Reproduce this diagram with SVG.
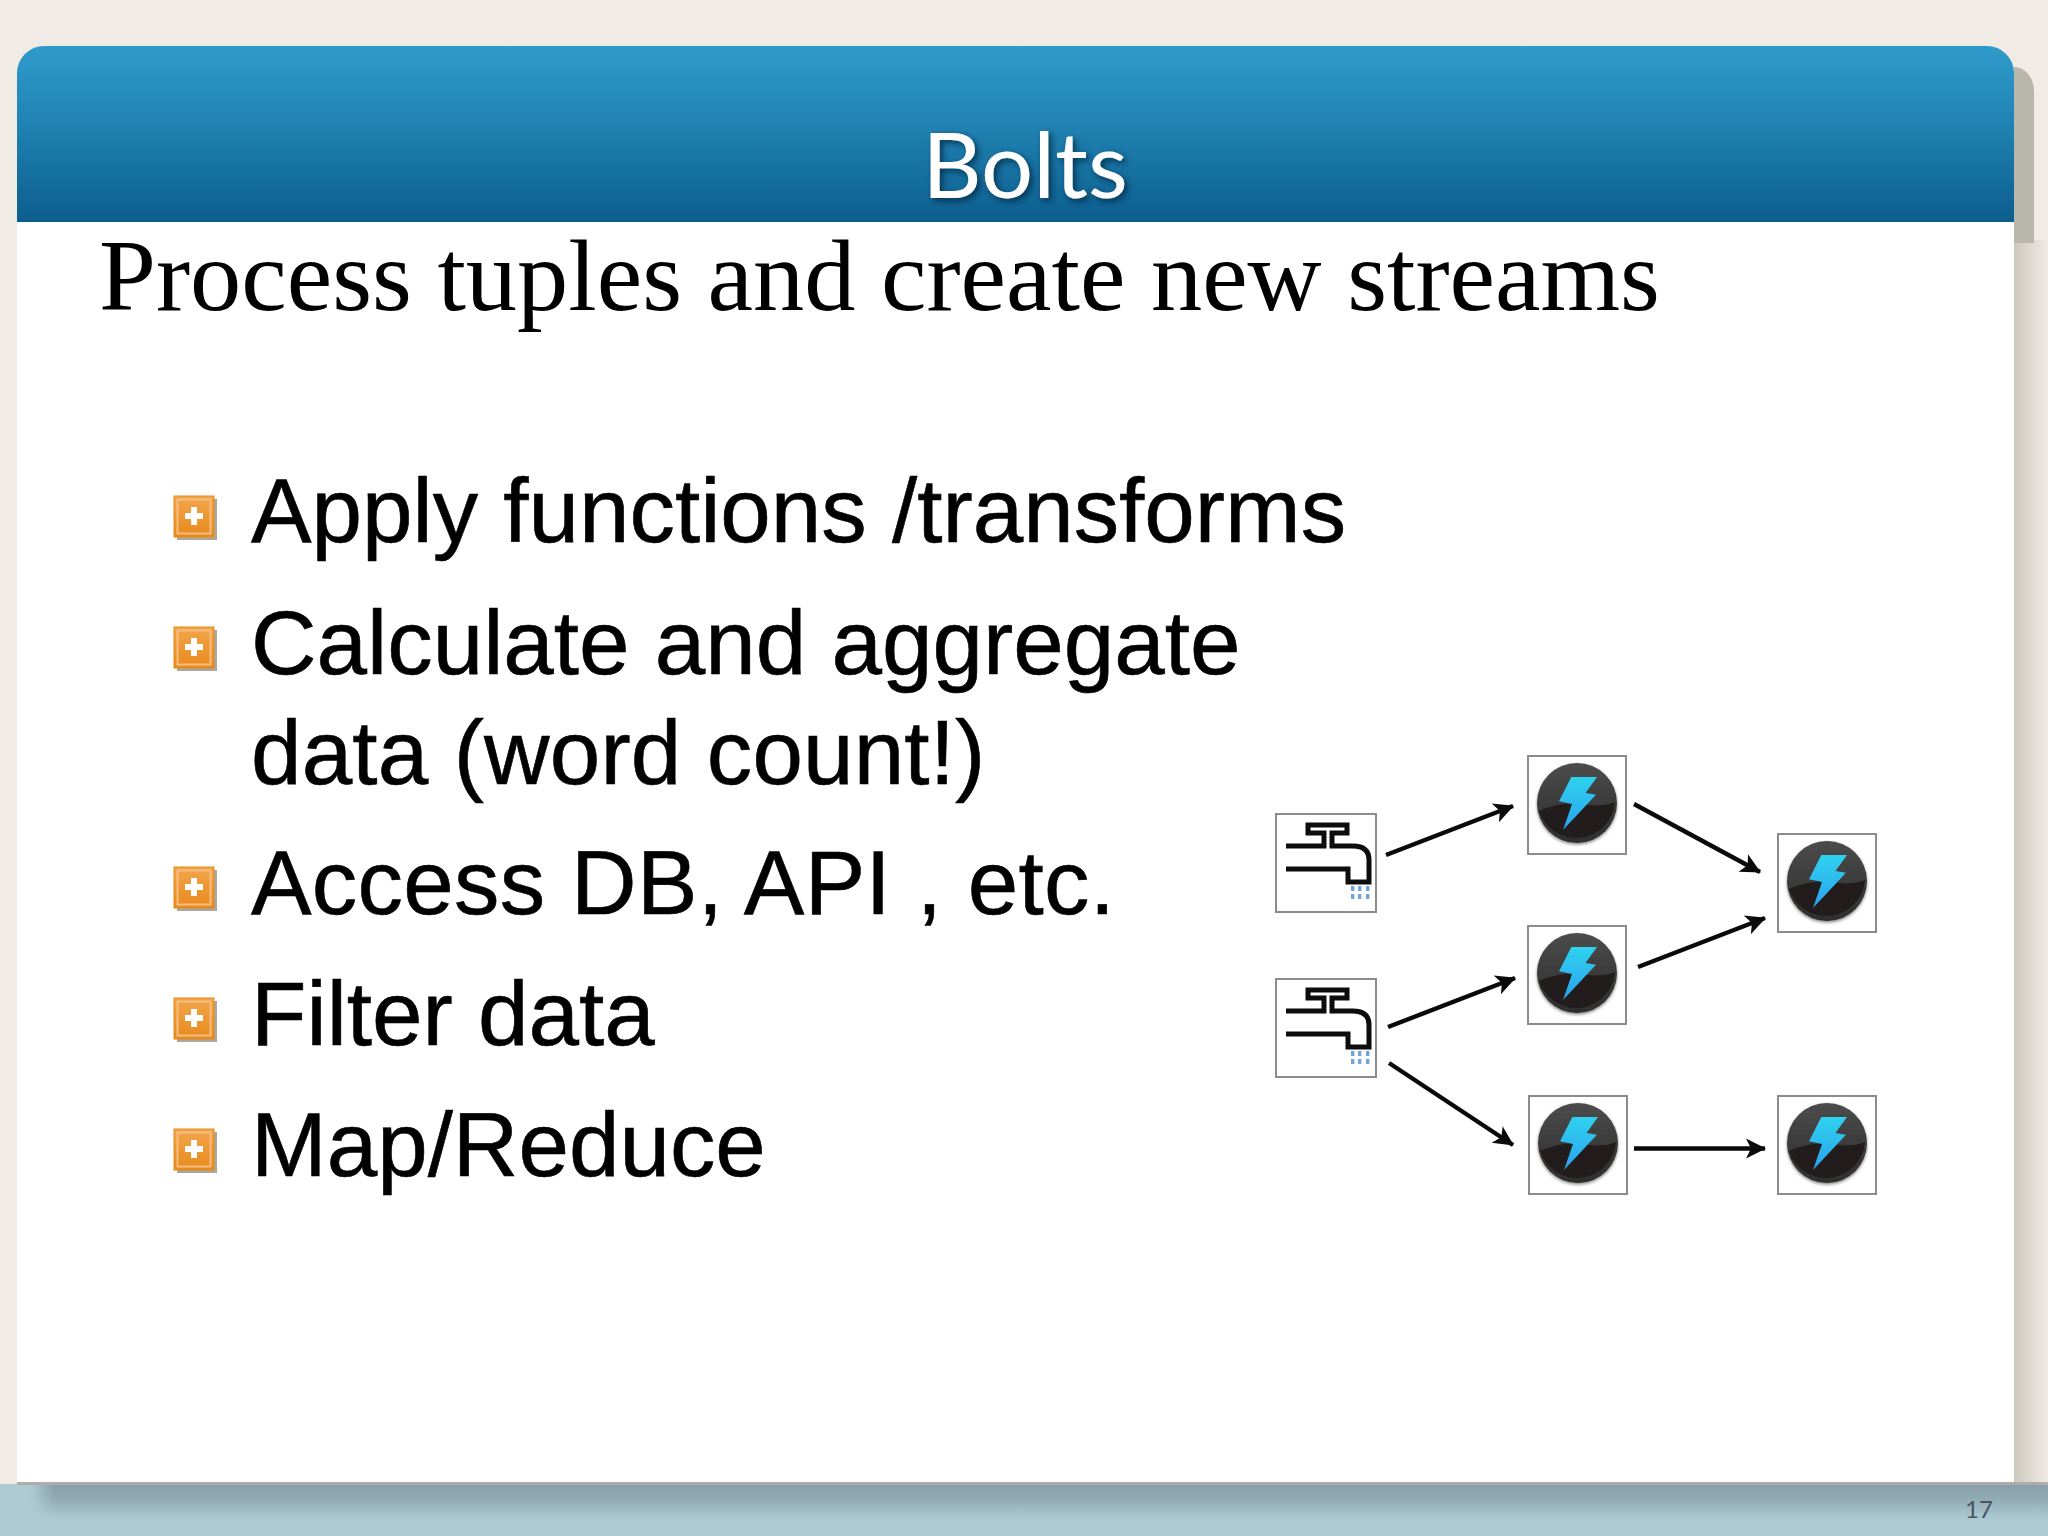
<svg xmlns="http://www.w3.org/2000/svg" xmlns:xlink="http://www.w3.org/1999/xlink" width="2048" height="1536" viewBox="0 0 2048 1536">
<style>
.title{font-family:"Lato","Noto Sans",sans-serif;font-size:92px;fill:#fff;text-anchor:middle}
.sub{font-family:"Liberation Serif","Times New Roman",serif;font-size:102.400px;fill:#000}
.b{font-family:"Liberation Sans",Arial,sans-serif;font-size:90.800px;fill:#000;stroke:#000;stroke-width:.6}
.num{font-family:"Lato","Noto Sans",sans-serif;font-size:24px;fill:#4a5560}
.box{fill:#fff;stroke:#8c8c8c;stroke-width:2}
.tap{fill:none;stroke:#0a0a0a;stroke-width:5}
.drop{fill:#6fa6d6}
.edge{fill:none;stroke:#0a0a0a;stroke-width:4.400;marker-end:url(#arr)}
</style>
<defs>
<linearGradient id="hdr" x1="0" y1="0" x2="0" y2="1"><stop offset="0" stop-color="#2f9bcb"/><stop offset=".35" stop-color="#2389b9"/><stop offset="1" stop-color="#0c5e8e"/></linearGradient>
<linearGradient id="botsh" x1="0" y1="0" x2="0" y2="1"><stop offset="0" stop-color="#899fac"/><stop offset=".35" stop-color="#8ea8b2"/><stop offset="1" stop-color="#aecbd3"/></linearGradient>
<linearGradient id="botl" x1="0" y1="0" x2="1" y2="0"><stop offset="0" stop-color="#aecbd3"/><stop offset="1" stop-color="#aecbd3" stop-opacity="0"/></linearGradient>
<linearGradient id="rsh" x1="0" y1="0" x2="1" y2="0"><stop offset="0" stop-color="#cbc8bd"/><stop offset="1" stop-color="#f0ebe4"/></linearGradient>
<linearGradient id="orb" x1="0" y1="0" x2="0" y2="1"><stop offset="0" stop-color="#4c4c4c"/><stop offset=".55" stop-color="#3a3a3a"/><stop offset="1" stop-color="#2e2e2e"/></linearGradient>
<linearGradient id="zap" x1="0" y1="0" x2="0" y2="1"><stop offset="0" stop-color="#2fd2ee"/><stop offset="1" stop-color="#2aa2ee"/></linearGradient>
<linearGradient id="bul" x1="0" y1="0" x2="0" y2="1"><stop offset="0" stop-color="#f2a54c"/><stop offset="1" stop-color="#e88a1c"/></linearGradient>
<filter id="ts" x="-20%" y="-30%" width="140%" height="160%"><feDropShadow dx="3" dy="3" stdDeviation="3" flood-color="#02243a" flood-opacity=".75"/></filter>
<filter id="soft" x="-10%" y="-10%" width="120%" height="120%"><feGaussianBlur stdDeviation=".6"/></filter>
<filter id="orbsh" x="-15%" y="-15%" width="130%" height="130%"><feDropShadow dx="0" dy="1.500" stdDeviation="1.500" flood-color="#000" flood-opacity=".5"/></filter>
<marker id="arr" markerUnits="userSpaceOnUse" markerWidth="24" markerHeight="22" refX="19" refY="11" orient="auto"><path d="M0 1 L20 11 L0 21 L5 11 Z" fill="#0a0a0a"/></marker>
<g id="tapicon" filter="url(#soft)">
<rect class="box" x="0" y="0" width="100" height="98"/>
<path class="tap" d="M10 32H48V19H32V11H71V19H56V32H77Q93 32 93 46V68H72V55H10"/>
<g class="drop"><rect x="75" y="72" width="3.400" height="5"/><rect x="82" y="72" width="3.400" height="5"/><rect x="90" y="72" width="3.400" height="5"/><rect x="75" y="80" width="3.400" height="5"/><rect x="82" y="80" width="3.400" height="5"/><rect x="90" y="80" width="3.400" height="5"/></g>
</g>
<g id="bolticon" filter="url(#soft)">
<rect class="box" x="0" y="0" width="98" height="98"/>
<g transform="translate(49 47)">
<circle r="40" fill="url(#orb)" filter="url(#orbsh)"/>
<path d="M-38 8Q-14 -2 6 1Q24 5 38 -1A39 39 0 0 1 -38 8Z" fill="#211c1c"/>
<path d="M-5.700 -26H20L8.500 -10L19 -8.300L-14 27L-5 1L-18 -1.700Z" fill="url(#zap)"/>
</g>
</g>
<g id="bullet">
<rect x="3" y="3" width="40" height="41" fill="#a9a7a0"/>
<rect x="0" y="0" width="40" height="41" fill="url(#bul)" stroke="#e8891a" stroke-width="1"/>
<rect x="3.500" y="3.500" width="33" height="34" fill="none" stroke="#f6bd80" stroke-width="2"/>
<path d="M17 11H23V17H29V23H23V29H17V23H11V17H17Z" fill="#fff"/>
</g>
</defs>

<g id="background">
<rect width="2048" height="1536" fill="#f0ebe4"/>
<rect x="2014" y="240" width="34" height="1244" fill="url(#rsh)"/>
<path d="M2014 67A20 24 0 0 1 2034 91V243H2014Z" fill="#b9b6ac"/>
<rect y="1484" width="2048" height="52" fill="#aecbd3"/>
<rect x="0" y="1484" width="2048" height="36" fill="url(#botsh)"/>
<rect x="0" y="1484" width="30" height="52" fill="#aecbd3"/>
<rect x="30" y="1484" width="24" height="36" fill="url(#botl)"/>
<rect x="17" y="1482" width="2031" height="3" fill="#adadaa"/>
</g>
<g id="card">
<rect x="17" y="200" width="1997" height="1282" fill="#fff"/>
<path d="M17 222V73A27 27 0 0 1 44 46H1987A27 27 0 0 1 2014 73V222Z" fill="url(#hdr)"/>
</g>
<text class="title" x="1025" y="198" filter="url(#ts)">Bolts</text>
<text class="sub" x="99" y="310">Process tuples and create new streams</text>
<g id="bullets">
<use href="#bullet" x="174" y="496"/>
<use href="#bullet" x="174" y="627"/>
<use href="#bullet" x="174" y="867"/>
<use href="#bullet" x="174" y="998"/>
<use href="#bullet" x="174" y="1129"/>
<text class="b" x="251" y="542">Apply functions /transforms</text>
<text class="b" x="251" y="674">Calculate and aggregate</text>
<text class="b" x="251" y="784" letter-spacing=".15">data (word count!)</text>
<text class="b" x="251" y="914" letter-spacing=".31">Access DB, API , etc.</text>
<text class="b" x="251" y="1045">Filter data</text>
<text class="b" x="251" y="1176">Map/Reduce</text>
</g>
<g id="connectors">
<path class="edge" d="M1386 855L1513 806"/>
<path class="edge" d="M1388 1027L1515 978"/>
<path class="edge" d="M1389 1063L1513 1145"/>
<path class="edge" d="M1634 804L1760 872"/>
<path class="edge" d="M1638 967L1765 918"/>
<path class="edge" d="M1634 1148.500H1765"/>
</g>
<g id="spout1"><use href="#tapicon" x="1276" y="814"/></g>
<g id="spout2"><use href="#tapicon" x="1276" y="979"/></g>
<g id="bolt1"><use href="#bolticon" x="1528" y="756"/></g>
<g id="bolt2"><use href="#bolticon" x="1528" y="926"/></g>
<g id="bolt3"><use href="#bolticon" x="1529" y="1096"/></g>
<g id="bolt4"><use href="#bolticon" x="1778" y="834"/></g>
<g id="bolt5"><use href="#bolticon" x="1778" y="1096"/></g>
<text class="num" x="1965" y="1518">17</text>
</svg>
